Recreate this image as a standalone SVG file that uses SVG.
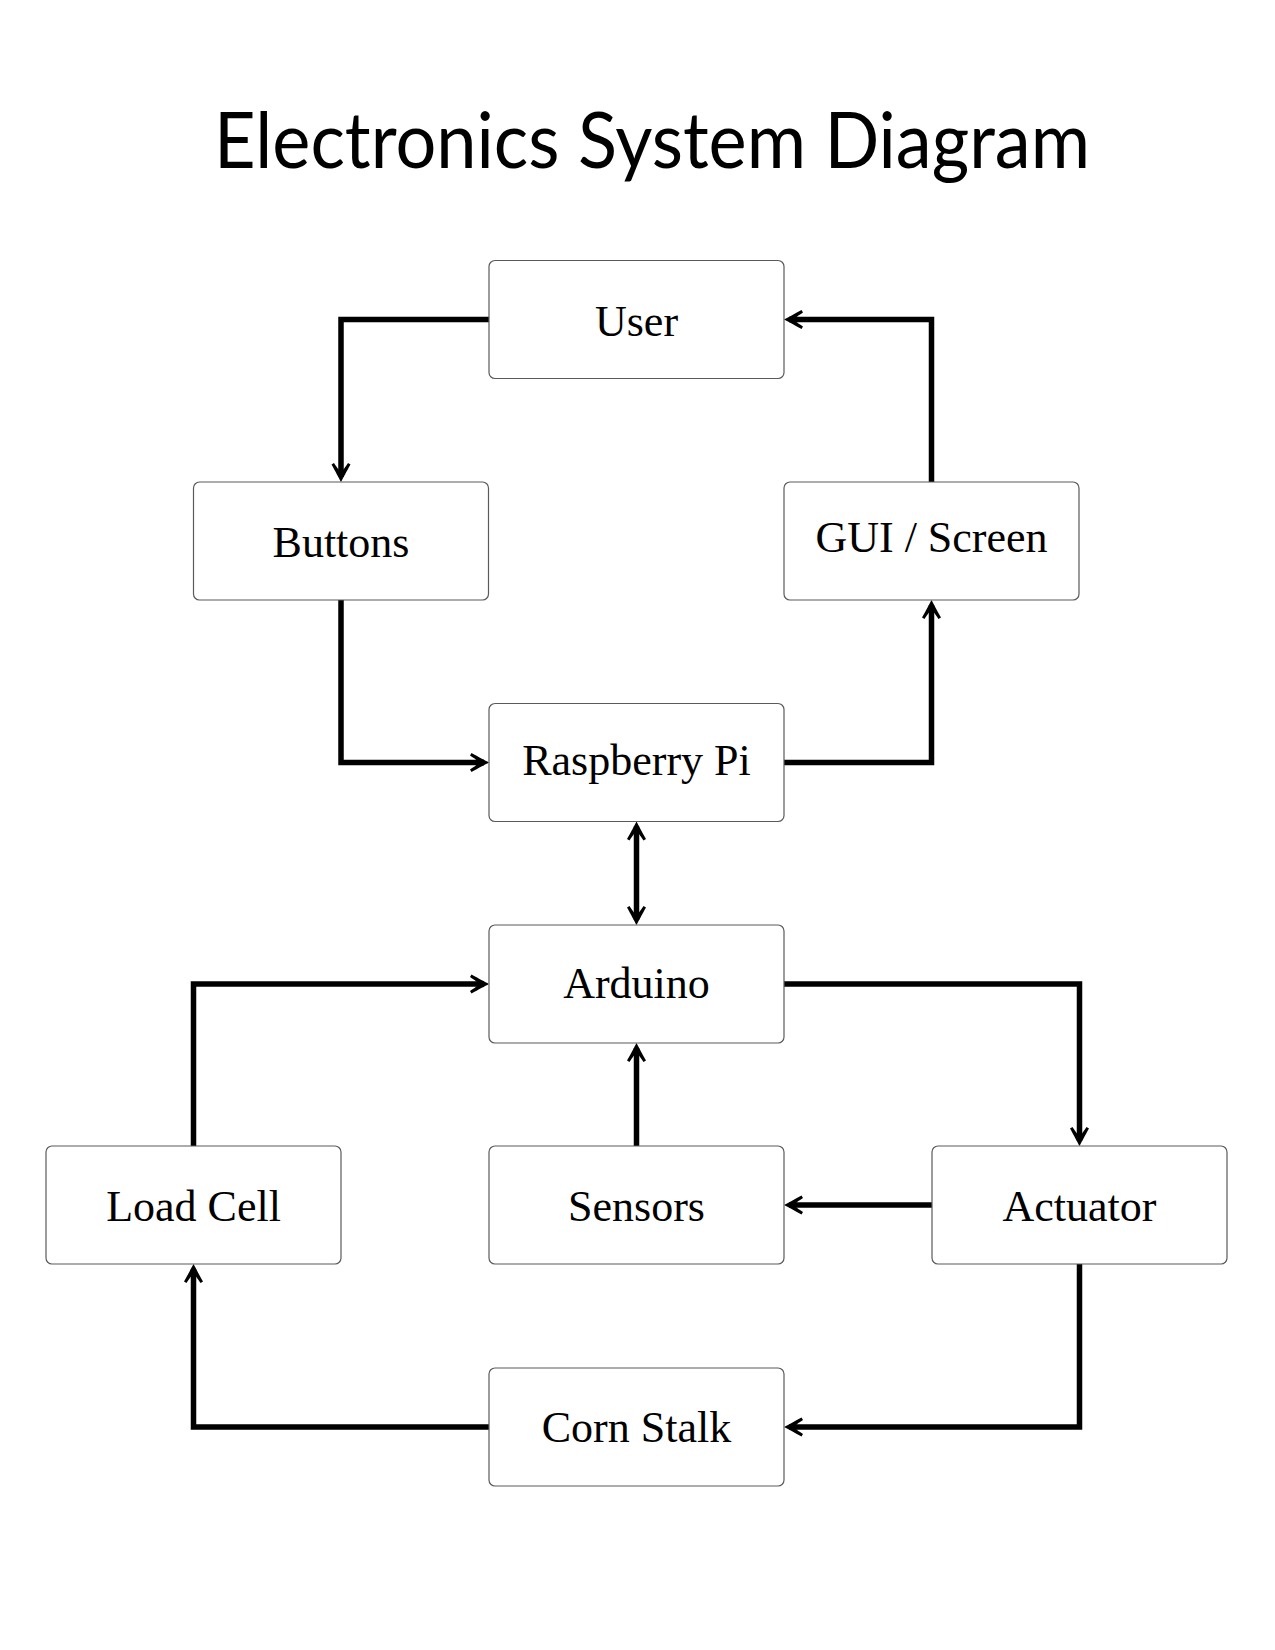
<svg xmlns="http://www.w3.org/2000/svg" width="1275" height="1650" viewBox="0 0 1275 1650">
<style>
.box{fill:#fff;stroke:#5a5a5a;stroke-width:1.2}
.lbl{font-family:"Liberation Serif","DejaVu Serif",serif;font-size:44px;fill:#000;text-anchor:middle}
.title{font-family:Lato,"Open Sans",sans-serif;font-size:77px;fill:#000}
.conn path{fill:none;stroke:#000;stroke-width:5.5;stroke-linejoin:miter;marker-end:url(#arr)}
</style>
<defs>
<marker id="arr" markerUnits="userSpaceOnUse" viewBox="-22 -11 24 22" markerWidth="24" markerHeight="22" refX="-5" refY="0" orient="auto-start-reverse" overflow="visible">
<path d="M0,0 C-4,-2.2 -10.5,-5.5 -17.5,-9.5 L-19,-7 C-14,-3.8 -11.5,-2 -10.5,0 C-11.5,2 -14,3.8 -19,7 L-17.5,9.5 C-10.5,5.5 -4,2.2 0,0 Z" fill="#000"/>
</marker>
</defs>
<rect width="1275" height="1650" fill="#fff"/>
<text class="title" x="214" y="168" textLength="876" lengthAdjust="spacingAndGlyphs">Electronics System Diagram</text>
<g class="conn" id="connectors">
<path d="M489,319.5 H341 V477"/>
<path d="M341,600 V762.5 H484"/>
<path d="M784,762.5 H931.5 V605"/>
<path d="M931.5,482 V319.5 H789"/>
<path d="M636.5,826.5 V920" style="marker-start:url(#arr)"/>
<path d="M193.5,1146 V984 H484"/>
<path d="M784,984 H1079.5 V1141"/>
<path d="M636.5,1146 V1048"/>
<path d="M932,1205 H789"/>
<path d="M1079.5,1264 V1427 H789"/>
<path d="M489,1427 H193.5 V1269"/>
</g>
<g id="user"><rect class="box" x="489" y="260.5" width="295" height="118" rx="6"/><text class="lbl" x="636.5" y="335.5">User</text></g>
<g id="buttons"><rect class="box" x="193.5" y="482" width="295" height="118" rx="6"/><text class="lbl" x="341" y="556.5">Buttons</text></g>
<g id="gui"><rect class="box" x="784" y="482" width="295" height="118" rx="6"/><text class="lbl" x="931.5" y="551.5">GUI / Screen</text></g>
<g id="raspberrypi"><rect class="box" x="489" y="703.5" width="295" height="118" rx="6"/><text class="lbl" x="636.5" y="774.5">Raspberry Pi</text></g>
<g id="arduino"><rect class="box" x="489" y="925" width="295" height="118" rx="6"/><text class="lbl" x="636.5" y="998">Arduino</text></g>
<g id="loadcell"><rect class="box" x="46" y="1146" width="295" height="118" rx="6"/><text class="lbl" x="193.5" y="1220.5">Load Cell</text></g>
<g id="sensors"><rect class="box" x="489" y="1146" width="295" height="118" rx="6"/><text class="lbl" x="636.5" y="1221">Sensors</text></g>
<g id="actuator"><rect class="box" x="932" y="1146" width="295" height="118" rx="6"/><text class="lbl" x="1079.5" y="1221">Actuator</text></g>
<g id="cornstalk"><rect class="box" x="489" y="1368" width="295" height="118" rx="6"/><text class="lbl" x="636.5" y="1442">Corn Stalk</text></g>
</svg>
